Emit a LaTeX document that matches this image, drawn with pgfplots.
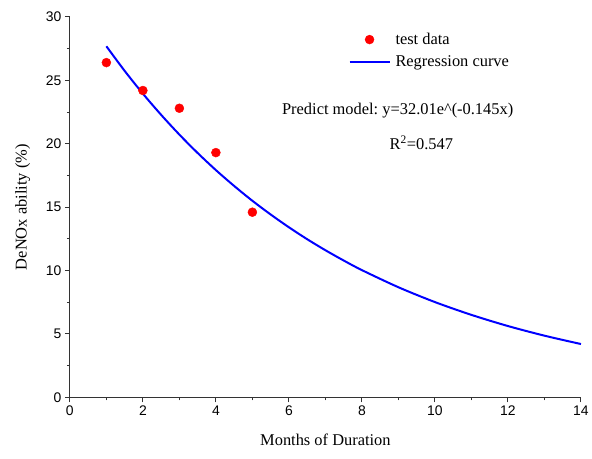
\documentclass[border=0pt]{standalone}
\usepackage{pgfplots}
\pgfplotsset{compat=1.18}
\usepackage{fontspec}
\setmainfont{Liberation Serif}
\newfontfamily\arialfont{Liberation Sans}

\pgfplotsset{
    dotlegend/.style={legend image code/.code={\draw[mark repeat=1,mark phase=1,##1] plot coordinates {(20bp,0bp)};}},
    linelegend/.style={legend image code/.code={\draw[##1] (0bp,0bp) -- (40bp,0bp);}},
}

\begin{document}
\begin{tikzpicture}
\begin{axis}[
    name=main,
    scale only axis,
    width=512bp,
    height=381bp,
    xmin=0, xmax=14,
    ymin=0, ymax=30,
    xtick={0,2,...,14},
    ytick={0,5,...,30},
    minor x tick num=1,
    minor y tick num=1,
    axis x line*=bottom,
    axis y line*=left,
    axis line style={line width=1pt, black!80},
    tick style={line width=1pt, black!80},
    tick align=outside,
    major tick length=5bp,
    minor tick length=3bp,
    /pgf/number format/assume math mode=true,
    ticklabel style={font=\arialfont\fontsize{14}{16}\selectfont},
    label style={font=\fontsize{16.5}{18}\selectfont},
    xlabel={Months of Duration},
    ylabel={DeNOx ability (\%)},
    xlabel style={yshift=-12bp},
    ylabel style={yshift=9bp},
    legend style={draw=none, fill=none, inner sep=0pt, at={(0.545,0.958)}, anchor=north west,
        font=\fontsize{16.5}{18}\selectfont, row sep=10bp,
        nodes={inner xsep=5bp, inner ysep=0pt}},
    legend cell align=left,
    clip=false,
]
\addplot [only marks, mark=*, mark size=4.5bp, color=red, dotlegend] coordinates {
    (1, 26.4)
    (2, 24.2)
    (3, 22.8)
    (4, 19.3)
    (5, 14.6)
};
\addlegendentry{test data}

\addplot [smooth, line width=2pt, color=blue, linelegend] coordinates {
    (1, 27.69)
    (1.5, 25.75)
    (2, 23.95)
    (2.5, 22.28)
    (3, 20.72)
    (3.5, 19.27)
    (4, 17.92)
    (4.5, 16.67)
    (5, 15.50)
    (5.5, 14.42)
    (6, 13.41)
    (6.5, 12.47)
    (7, 11.60)
    (7.5, 10.79)
    (8, 10.03)
    (9, 8.68)
    (10, 7.51)
    (11, 6.50)
    (12, 5.62)
    (13, 4.86)
    (14, 4.20)
};
\addlegendentry{Regression curve}

\node [font=\fontsize{16.5}{18}\selectfont] at (axis cs:8.98,22.6) {Predict model:\ y=32.01e\^{}(-0.145x)};
\node [font=\fontsize{16.5}{18}\selectfont] at (axis cs:9.63,20.08) {R\textsuperscript{2}=0.547};
\end{axis}
\path (main.south west) ++(-70bp,-61bp) rectangle ([shift={(10bp,17bp)}]main.north east);
\end{tikzpicture}
\end{document}
